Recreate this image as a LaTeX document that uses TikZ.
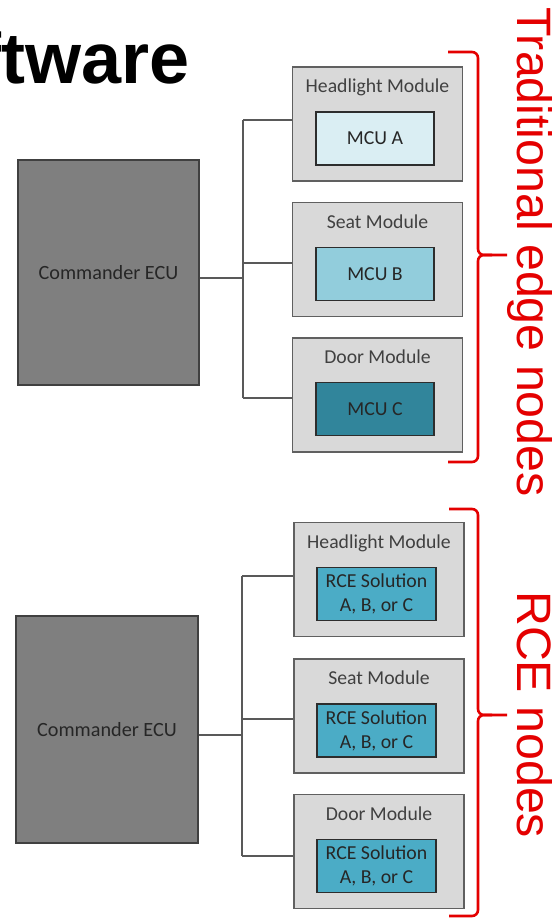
\documentclass[tikz,border=0pt]{standalone}
\usepackage{fontspec}
\setmainfont{Carlito}
\newfontfamily\arialfont{Liberation Sans}
\usetikzlibrary{calc}
\definecolor{ecuGray}{RGB}{127,127,127}
\definecolor{ecuBorder}{RGB}{64,64,64}
\definecolor{modGray}{RGB}{217,217,217}
\definecolor{modBorder}{RGB}{96,96,96}
\definecolor{mcuA}{RGB}{218,238,243}
\definecolor{mcuB}{RGB}{146,205,220}
\definecolor{mcuC}{RGB}{49,133,155}
\definecolor{rceBlue}{RGB}{75,172,198}
\definecolor{chipBorder}{RGB}{45,45,45}
\definecolor{wireGray}{RGB}{89,89,89}
\definecolor{braceRed}{RGB}{228,0,0}
\definecolor{textDark}{RGB}{38,38,38}
\definecolor{textGray}{RGB}{64,64,64}

\begin{document}
\begin{tikzpicture}
[x=1pt,y=-1pt,
ecu/.style={draw=ecuBorder,fill=ecuGray,line width=1.2pt,minimum width=181pt,minimum height=225pt,inner sep=0pt,font=\fontsize{20.2}{24}\selectfont,text=textDark},
module/.style={draw=modBorder,fill=modGray,line width=1.2pt,minimum width=170pt,minimum height=114pt,inner sep=0pt},
moduleTitle/.style={font=\fontsize{19.7}{23}\selectfont,text=textGray,inner sep=0pt,anchor=base},
chip/.style={draw=chipBorder,line width=1.2pt,minimum width=118pt,minimum height=53pt,inner sep=0pt,font=\fontsize{19.8}{24}\selectfont,text=textDark,align=center},
wire/.style={draw=wireGray,line width=1.2pt},
bracePath/.style={draw=braceRed,line width=2.6pt,rounded corners=6pt},
sideLabel/.style={text=braceRed,font=\arialfont\fontsize{48.3}{48}\selectfont,rotate=-90,anchor=base west,inner sep=0pt}]
\fill[white] (0,0) rectangle (555,921);
\useasboundingbox (0,0) rectangle (555,921);

\node[font=\arialfont\bfseries\fontsize{72}{72}\selectfont,anchor=base east,inner sep=0pt] (title) at (190,83) {ftware};

% traditional edge nodes
\node[ecu] (ecuA) at (108.5,272.5) {Commander ECU};
\node[module] (hlA) at (377.5,124) {};
\node[module] (seatA) at (377.5,259.5) {};
\node[module] (doorA) at (377.5,395) {};
\node[moduleTitle] (hlAtitle) at (377.5,92) {Headlight Module};
\node[moduleTitle] (seatAtitle) at (377.5,228) {Seat Module};
\node[moduleTitle] (doorAtitle) at (377.5,363) {Door Module};
\node[chip,fill=mcuA] (mcuA) at (375,138.5) {MCU A};
\node[chip,fill=mcuB] (mcuB) at (375,274) {MCU B};
\node[chip,fill=mcuC] (mcuC) at (375,409) {MCU C};

\coordinate (jA) at (243,278);
\coordinate (tapHlA) at (243,120);
\coordinate (tapSeatA) at (243,263);
\coordinate (tapDoorA) at (243,398);
\draw[wire] (ecuA.east |- jA) -- (jA);
\draw[wire] (tapHlA) -- (tapDoorA);
\draw[wire] (tapHlA) -- (tapHlA -| hlA.west);
\draw[wire] (tapSeatA) -- (tapSeatA -| seatA.west);
\draw[wire] (tapDoorA) -- (tapDoorA -| doorA.west);

% RCE nodes
\node[ecu,minimum width=182pt,minimum height=227pt] (ecuB) at (107,729.5) {Commander ECU};
\node[module] (hlB) at (379,579.5) {};
\node[module] (seatB) at (379,716) {};
\node[module] (doorB) at (379,851.5) {};
\node[moduleTitle] (hlBtitle) at (379,548) {Headlight Module};
\node[moduleTitle] (seatBtitle) at (379,684) {Seat Module};
\node[moduleTitle] (doorBtitle) at (379,820) {Door Module};
\node[chip,fill=rceBlue,minimum width=119pt] (rceA) at (376.5,594) {RCE Solution\\A, B, or C};
\node[chip,fill=rceBlue,minimum width=119pt] (rceB) at (376.5,730.5) {RCE Solution\\A, B, or C};
\node[chip,fill=rceBlue,minimum width=119pt] (rceC) at (376.5,866) {RCE Solution\\A, B, or C};

\coordinate (jB) at (242,735);
\coordinate (tapHlB) at (242,576);
\coordinate (tapSeatB) at (242,719);
\coordinate (tapDoorB) at (242,856);
\draw[wire] (ecuB.east |- jB) -- (jB);
\draw[wire] (tapHlB) -- (tapDoorB);
\draw[wire] (tapHlB) -- (tapHlB -| hlB.west);
\draw[wire] (tapSeatB) -- (tapSeatB -| seatB.west);
\draw[wire] (tapDoorB) -- (tapDoorB -| doorB.west);

% braces
\draw[bracePath] (448,52) -- (478,52) -- (478,255) -- (507,255);
\draw[bracePath] (492,255) -- (478,255) -- (478,462) -- (448,462);
\draw[bracePath] (449,509) -- (478,509) -- (478,715) -- (507,715);
\draw[bracePath] (492,715) -- (478,715) -- (478,916) -- (449,916);
\node[sideLabel] (tradLabel) at (517,7) {Traditional edge nodes};
\node[sideLabel] (rceLabel) at (517,591) {RCE nodes};
\end{tikzpicture}
\end{document}
